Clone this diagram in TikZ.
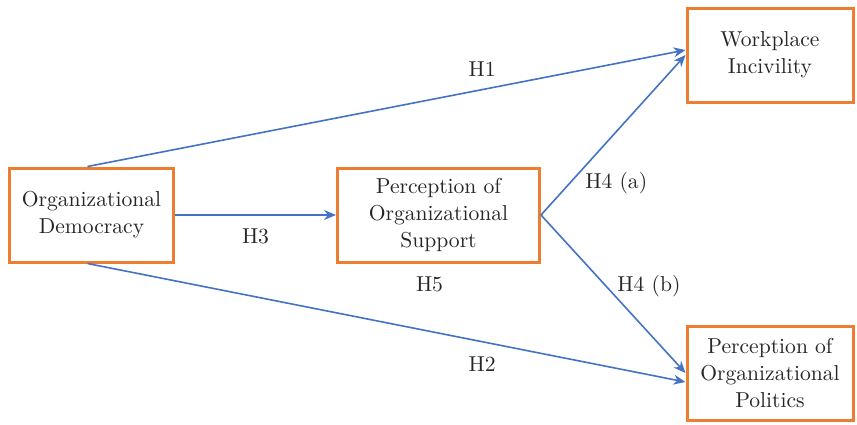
\documentclass[tikz,border=0pt]{standalone}
\usetikzlibrary{arrows.meta,positioning}
\definecolor{boxorange}{RGB}{237,125,49}
\definecolor{linkblue}{RGB}{68,114,196}

\begin{document}
\begin{tikzpicture}[x=0.5pt, y=-0.5pt, font=\fontsize{10.8}{13.5}\selectfont, text=black!85,
    box/.style={rectangle, draw=boxorange, line width=1.5pt, align=center, minimum height=47pt},
    link/.style={-{Stealth[length=6pt, width=5pt]}, draw=linkblue, line width=0.8pt}]
    \useasboundingbox (0,0) rectangle (857,424);
    \node[box, minimum width=82pt] (od) at (91.5,215) {Organizational\\Democracy};
    \node[box, minimum width=101pt] (pos) at (438.5,215) {Perception of\\Organizational\\Support};
    \node[box, minimum width=83pt] (wi) at (770,55) {Workplace\\Incivility};
    \node[box, minimum width=83pt] (pop) at (770,373) {Perception of\\Organizational\\Politics};
    \node[below=3pt of pos, xshift=-4.5pt] (h5) {H5};
    % hypotheses
    \draw[link] ([xshift=-2pt]od.north) -- node[pos=0.66, above=3pt] {H1} ([yshift=2.5pt]wi.west);
    \draw[link] ([xshift=-2pt]od.south) -- node[pos=0.66, below=4pt] {H2} ([yshift=-4.5pt]pop.west);
    \draw[link] (od) -- node[below=3pt] {H3} (pos);
    \draw[link] (pos.east) -- node[pos=0.2, right=4pt] {H4 (a)} (wi.west);
    \draw[link] (pos.east) -- node[pos=0.45, right=2pt] {H4 (b)} (pop.west);
\end{tikzpicture}
\end{document}
